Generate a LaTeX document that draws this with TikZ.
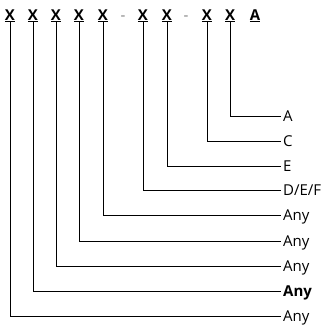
\documentclass[tikz,border=0pt]{standalone}
\usepackage{fontspec}
\setmainfont{Open Sans}
\begin{document}
\begin{tikzpicture}[x=1pt,y=-1pt,
  hdr/.style={font=\fontsize{15}{17}\selectfont\bfseries, inner sep=0pt, anchor=base},
  dsh/.style={font=\fontsize{15}{17}\selectfont, text=gray, inner sep=0pt, anchor=base},
  lbl/.style={font=\fontsize{15}{17}\selectfont, inner xsep=2pt, inner ysep=0pt, anchor=west, text height=10.7pt, text depth=0pt},
  wire/.style={draw=black, line width=0.7pt}]
\useasboundingbox (0,0) rectangle (332,327);
% header
\node[hdr] (h1) at (10,20) {\underline{X}};
\node[hdr] (h2) at (33,20) {\underline{X}};
\node[hdr] (h3) at (56,20) {\underline{X}};
\node[hdr] (h4) at (79,20) {\underline{X}};
\node[hdr] (h5) at (103,20) {\underline{X}};
\node[dsh] (d1) at (123,20) {-};
\node[hdr] (h6) at (143,20) {\underline{X}};
\node[hdr] (h7) at (167,20) {\underline{X}};
\node[dsh] (d2) at (186,20) {-};
\node[hdr] (h8) at (207,20) {\underline{X}};
\node[hdr] (h9) at (230,20) {\underline{X}};
\node[hdr] (hA) at (255,20) {\underline{A}};
% labels
\node[lbl] (l9) at (281,116) {A};
\node[lbl] (l8) at (281,141) {C};
\node[lbl] (l7) at (281,166) {E};
\node[lbl] (l6) at (281,190) {D/E/F};
\node[lbl] (l5) at (281,215) {Any};
\node[lbl] (l4) at (281,241) {Any};
\node[lbl] (l3) at (281,266) {Any};
\node[lbl, font=\fontsize{15}{17}\selectfont\bfseries] (l2) at (281,291) {Any};
\node[lbl] (l1) at (281,316) {Any};
% connectors
\foreach \i in {1,...,9}
  \draw[wire] (h\i.south) |- (l\i.west);
\end{tikzpicture}
\end{document}
